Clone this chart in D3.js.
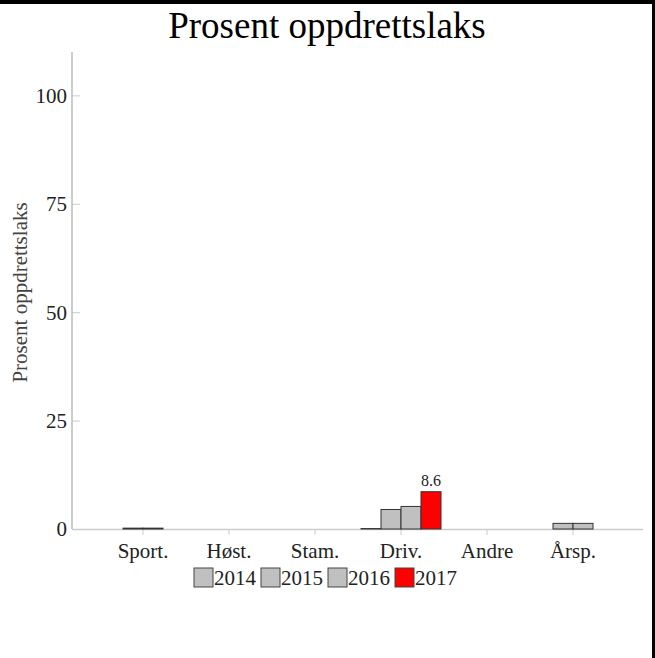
<!DOCTYPE html>
<html>
<head>
<meta charset="utf-8">
<script src="https://cdn.jsdelivr.net/npm/d3@7"></script>
<style>
html,body{margin:0;padding:0;background:#fff;}
svg{display:block;}
text{font-family:"Liberation Serif","DejaVu Serif",serif;fill:#222;}
</style>
</head>
<body>
<svg id="chart" width="655" height="658"></svg>
<script>
const categories = ["Sport.", "Høst.", "Stam.", "Driv.", "Andre", "Årsp."];
const years = ["2014", "2015", "2016", "2017"];
const v2014 = [null, null, null, 0.1, null, null];
const v2015 = [0.2, null, null, 4.5, null, 1.3];
const v2016 = [0.2, null, null, 5.2, null, 1.3];
const v2017 = [null, null, null, 8.6, null, null];
const yTicks = [0, 25, 50, 75, 100];
const colors = ["#c0c0c0", "#c0c0c0", "#c0c0c0", "#ff0000"];
const series = [v2014, v2015, v2016, v2017];
const title = "Prosent oppdrettslaks";
const yTitle = "Prosent oppdrettslaks";

const svg = d3.select("#chart");
const W = 655, H = 658;
const panel = {left: 72, right: 643, top: 52, bottom: 529};

// frame (top and right edges)
svg.append("rect").attr("x", 0).attr("y", 0).attr("width", W).attr("height", 4).attr("fill", "#000");
svg.append("rect").attr("x", 652).attr("y", 0).attr("width", 3).attr("height", H).attr("fill", "#000");

svg.append("text").attr("x", 327).attr("y", 38).attr("text-anchor", "middle")
  .style("font-size", "37px").style("fill", "#000").text(title);

const x = d3.scaleBand().domain(categories).range([100, 616]).padding(0);
const x1 = d3.scaleBand().domain(years).range([0, 80]);
const y = d3.scaleLinear().domain([0, 110]).range([panel.bottom, panel.top]);

// y axis
const yAxis = svg.append("g").attr("transform", `translate(${panel.left},0)`)
  .call(d3.axisRight(y).tickValues(yTicks).tickSize(8).tickFormat(""));
yAxis.select(".domain").remove();
yAxis.selectAll(".tick line").attr("stroke", "#ccc");
svg.append("line").attr("x1", panel.left).attr("x2", panel.left)
  .attr("y1", panel.top).attr("y2", panel.bottom).attr("stroke", "#bbb").attr("stroke-width", 1.5);
svg.append("g").selectAll("text").data(yTicks).join("text")
  .attr("x", 67).attr("y", d => y(d)).attr("dy", "0.35em").attr("text-anchor", "end")
  .style("font-size", "21px").text(d => d);

svg.append("text").attr("transform", `translate(27,${(y(0)+y(110))/2 + 2}) rotate(-90)`)
  .attr("text-anchor", "middle").style("font-size", "21px").style("fill", "#444").text(yTitle);

// x axis
svg.append("line").attr("x1", panel.left).attr("x2", panel.right)
  .attr("y1", panel.bottom + 0.5).attr("y2", panel.bottom + 0.5).attr("stroke", "#ccc").attr("stroke-width", 1.5);
const xAxis = svg.append("g").attr("transform", `translate(0,${panel.bottom})`)
  .call(d3.axisBottom(x).tickSize(6).tickPadding(8));
xAxis.select(".domain").remove();
xAxis.selectAll(".tick line").attr("stroke", "#ccc");
xAxis.selectAll(".tick text").style("font-size", "21px").style("font-family", "Liberation Serif").attr("fill", "#222");

// bars
const bars = [];
series.forEach((s, si) => s.forEach((v, ci) => {
  if (v !== null) bars.push({cat: categories[ci], year: years[si], v, si});
}));
const offset = (x.bandwidth() - 80) / 2;
svg.append("g").selectAll("rect").data(bars).join("rect")
  .attr("x", d => x(d.cat) + offset + x1(d.year))
  .attr("width", x1.bandwidth())
  .attr("y", d => y(d.v))
  .attr("height", d => y(0) - y(d.v))
  .attr("fill", d => colors[d.si])
  .attr("stroke", "#333").attr("stroke-width", 1);

// value labels for 2017
svg.append("g").selectAll("text").data(bars.filter(d => d.year === "2017")).join("text")
  .attr("x", d => x(d.cat) + offset + x1(d.year) + x1.bandwidth() / 2)
  .attr("y", d => y(d.v) - 6).attr("text-anchor", "middle")
  .style("font-size", "16px").text(d => d.v.toFixed(1));

// legend
const leg = svg.append("g").attr("transform", "translate(194,568)");
const items = leg.selectAll("g").data(years).join("g").attr("transform", (d, i) => `translate(${i * 67},0)`);
items.append("rect").attr("width", 19).attr("height", 19)
  .attr("fill", (d, i) => colors[i]).attr("stroke", "#444").attr("stroke-width", 1);
items.append("text").attr("x", 20).attr("y", 17).style("font-size", "21px").text(d => d);
</script>
</body>
</html>
